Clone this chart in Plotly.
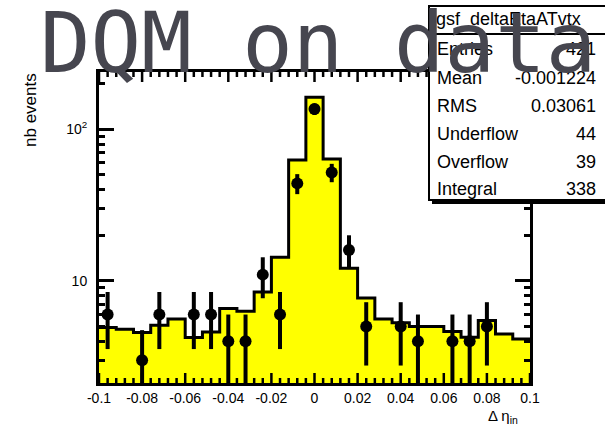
import numpy as np
import plotly.graph_objects as go

# Binning: 25 bins of delta-eta between -0.1 and 0.1
bin_lo, bin_hi, n_bins = -0.1, 0.1, 25

# Reference (filled) histogram contents per bin
ref_counts = [4.92, 4.80, 4.56, 5.10, 5.60, 4.23, 4.60, 6.57, 6.30, 8.46,
              14.3, 62.8, 163.0, 63.8, 12.1, 7.7, 5.6, 5.3, 5.0, 5.0,
              4.63, 4.25, 5.47, 4.47, 4.13]

# Data points per bin (None = empty bin, not drawn on log scale)
data_counts = [6, None, 3, 6, None, 6, 6, 4, 4, 11,
               6, 44, 136, 52, 16, 5, None, 5, 4, None,
               4, 4, 5, None, None]

x_tick_vals = [-0.1, -0.08, -0.06, -0.04, -0.02, 0.0, 0.02, 0.04, 0.06, 0.08, 0.1]
x_tick_text = ["-0.1", "-0.08", "-0.06", "-0.04", "-0.02", "0",
               "0.02", "0.04", "0.06", "0.08", "0.1"]
x_minor_step = 0.004
y_tick_vals = [10, 100]
y_tick_text = ["10", "10<sup>2</sup>"]
y_minor_vals = [3, 4, 5, 6, 7, 8, 9, 20, 30, 40, 50, 60, 70, 80, 90, 200]
y_range = [2.12, 239.0]

stats_title = "gsf_deltaEtaATvtx"
stats_labels = ["Entries", "Mean", "RMS", "Underflow", "Overflow", "Integral"]
stats_values = ["421", "-0.001224", "0.03061", "44", "39", "338"]

edges = np.linspace(bin_lo, bin_hi, n_bins + 1)
centers = 0.5 * (edges[:-1] + edges[1:])
width = edges[1] - edges[0]
x_minor_vals = [float(v) for v in np.round(np.arange(bin_lo, bin_hi + 1e-9, x_minor_step), 4)
                if not np.any(np.isclose(v, x_tick_vals))]

# Canvas geometry
W, H = 605, 432
L, R, T, B = 99, 75, 72, 49
pw, ph = W - L - R, H - T - B


def px(x):
    return (x - L) / pw


def py(y):
    return (H - B - y) / ph


fig = go.Figure()

# yellow fill of the reference histogram
fig.add_trace(go.Bar(
    x=centers, y=ref_counts, width=width,
    marker=dict(color="#ffff00", line=dict(width=0)),
    showlegend=False, hoverinfo="skip",
))

# step outline
step_x = list(edges)
step_y = list(ref_counts) + [ref_counts[-1]]
fig.add_trace(go.Scatter(
    x=step_x, y=step_y, mode="lines",
    line=dict(shape="hv", color="black", width=3),
    showlegend=False, hoverinfo="skip",
))

# data points with Poisson errors
err = [float(np.sqrt(v)) if v is not None else 0.0 for v in data_counts]
fig.add_trace(go.Scatter(
    x=centers, y=data_counts, mode="markers",
    marker=dict(color="black", size=12, symbol="circle"),
    error_y=dict(type="data", array=err, thickness=4, width=0, color="black"),
    showlegend=False,
))

axis_font = dict(family="Liberation Sans, Arial, sans-serif", size=14, color="black")

fig.update_xaxes(
    range=[bin_lo, bin_hi], tickvals=x_tick_vals, ticktext=x_tick_text,
    ticks="", mirror=True, showline=True, linewidth=3, linecolor="black",
    showgrid=False, zeroline=False, tickfont=axis_font,
)
fig.update_yaxes(
    type="log", range=[np.log10(y_range[0]), np.log10(y_range[1])],
    tickvals=y_tick_vals, ticktext=y_tick_text,
    ticks="inside", ticklen=15, tickwidth=2.5, tickcolor="black",
    minor=dict(tickvals=y_minor_vals, ticks="inside", ticklen=6,
               tickwidth=2.5, tickcolor="black"),
    mirror="allticks", showline=True, linewidth=3, linecolor="black",
    showgrid=False, zeroline=False, tickfont=axis_font, ticklabelstandoff=6,
)

shapes = []


def x_tick(v, length):
    # tick marks on bottom and top frame edges, pointing inwards
    for y0, y1 in ((0, length / ph), (1, 1 - length / ph)):
        shapes.append(dict(type="line", xref="x", yref="paper", x0=v, x1=v,
                           y0=y0, y1=y1, line=dict(color="black", width=2.5),
                           layer="above"))


for v in x_tick_vals:
    x_tick(v, 10)
for v in x_minor_vals:
    x_tick(v, 5)

# stats box shadow, box and header separator
shapes.append(dict(type="rect", xref="paper", yref="paper",
                   x0=px(432), x1=px(650), y0=py(204), y1=py(9),
                   fillcolor="black", line=dict(width=0), layer="above"))
shapes.append(dict(type="rect", xref="paper", yref="paper",
                   x0=px(429), x1=px(645), y0=py(200), y1=py(6),
                   fillcolor="white", line=dict(color="black", width=2),
                   layer="above"))
shapes.append(dict(type="line", xref="paper", yref="paper",
                   x0=px(429), x1=px(645), y0=py(34), y1=py(34),
                   line=dict(color="black", width=2), layer="above"))

stat_font = dict(family="Liberation Sans, Arial, sans-serif", size=18, color="black")
annotations = []
annotations.append(dict(text=stats_title, xref="paper", yref="paper",
                        x=px(434), y=py(20), xanchor="left", yanchor="middle",
                        showarrow=False, font=stat_font))
row_y = [49, 78, 106, 134, 162, 189]
for lab, val, yy in zip(stats_labels, stats_values, row_y):
    annotations.append(dict(text=lab, xref="paper", yref="paper",
                            x=px(435), y=py(yy), xanchor="left", yanchor="middle",
                            showarrow=False, font=stat_font))
    annotations.append(dict(text=val, xref="paper", yref="paper",
                            x=px(598), y=py(yy), xanchor="right", yanchor="middle",
                            showarrow=False, font=stat_font))

# axis titles
annotations.append(dict(text="Δ η<sub>in</sub>", xref="paper", yref="paper",
                        x=px(520), y=py(405), xanchor="right", yanchor="top",
                        showarrow=False,
                        font=dict(family="Liberation Sans, Arial, sans-serif",
                                  size=15, color="black")))
annotations.append(dict(text="nb events", xref="paper", yref="paper",
                        x=px(30), y=py(110), xanchor="center", yanchor="middle",
                        textangle=-90, showarrow=False,
                        font=dict(family="Liberation Sans, Arial, sans-serif",
                                  size=17, color="black")))

# page title, drawn last so it sits over everything
annotations.append(dict(text="DQM on data", xref="paper", yref="paper",
                        x=px(38), y=py(43), xanchor="left", yanchor="middle",
                        showarrow=False,
                        font=dict(family="DejaVu Sans Mono, monospace",
                                  size=84, color="#46464f")))

fig.update_layout(
    width=W, height=H,
    margin=dict(l=L, r=R, t=T, b=B),
    paper_bgcolor="white", plot_bgcolor="white",
    bargap=0, shapes=shapes, annotations=annotations,
)

fig.write_html("out.html")
